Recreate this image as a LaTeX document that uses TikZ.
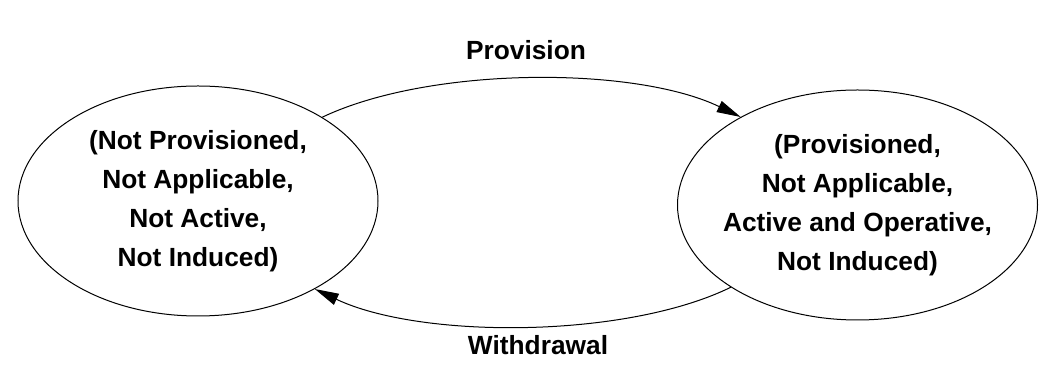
\documentclass[tikz,border=0pt]{standalone}
\usepackage{fontspec}
\setmainfont{Liberation Sans}
\usetikzlibrary{arrows.meta,shapes.geometric}
\tikzset{
  state/.style={draw, ellipse, line width=0.5pt, inner xsep=-30pt, inner ysep=0pt,
    minimum width=180pt, minimum height=115pt, align=center,
    font=\bfseries\fontsize{13.15pt}{19.5pt}\selectfont},
  lbl/.style={anchor=base, inner sep=0pt, font=\bfseries\fontsize{13.15pt}{16pt}\selectfont},
  trans/.style={line width=0.5pt, -{Triangle[length=12pt,width=6pt]}}
}
\begin{document}
\begin{tikzpicture}[x=0.5pt,y=-0.5pt]
  \useasboundingbox (0,0) rectangle (1053,378);
  % states
  \node[state] (np) at (198,201) {(Not Provisioned,\\Not Applicable,\\Not Active,\\Not Induced)};
  \node[state] (pr) at (857.5,205) {(Provisioned,\\Not Applicable,\\Active and Operative,\\Not Induced)};
  % transitions
  \draw[trans] (np.34.2) .. controls (430,66) and (635,66) .. (pr.143.6);
  \draw[trans] (pr.213.1) .. controls (625,339) and (420,339) .. (np.323.4);
  \node[lbl] (prov) at (526,60) {Provision};
  \node[lbl] (wdr) at (538,355) {Withdrawal};
\end{tikzpicture}
\end{document}
